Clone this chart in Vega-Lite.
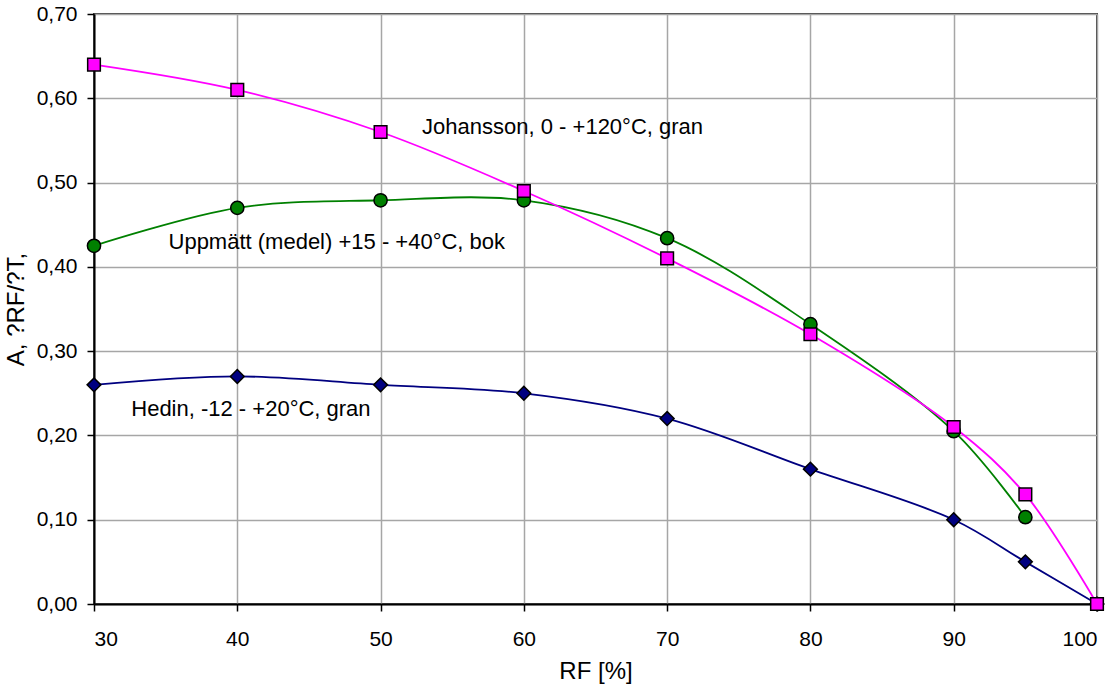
{
  "$schema": "https://vega.github.io/schema/vega-lite/v6.json",
  "width": 1003,
  "height": 590,
  "autosize": {"type": "none"},
  "padding": {"left": 94, "top": 14, "right": 22, "bottom": 82},
  "background": "white",
  "config": {
    "font": "Liberation Sans",
    "view": {"stroke": "#404040", "strokeWidth": 2},
    "axis": {
      "labelFont": "Liberation Sans",
      "titleFont": "Liberation Sans",
      "labelColor": "#000000",
      "titleColor": "#000000",
      "labelFontSize": 21,
      "titleFontSize": 24,
      "titleFontWeight": "normal",
      "domainColor": "#000000",
      "domainWidth": 2,
      "tickColor": "#000000",
      "tickWidth": 1.5,
      "tickSize": 7,
      "gridColor": "#a6a6a6",
      "gridWidth": 1.5,
      "gridOpacity": 1
    }
  },
  "datasets": {
    "series": [
      {"s": "Hedin", "rf": 30, "a": 0.26},
      {"s": "Hedin", "rf": 40, "a": 0.27},
      {"s": "Hedin", "rf": 50, "a": 0.26},
      {"s": "Hedin", "rf": 60, "a": 0.25},
      {"s": "Hedin", "rf": 70, "a": 0.22},
      {"s": "Hedin", "rf": 80, "a": 0.16},
      {"s": "Hedin", "rf": 90, "a": 0.10},
      {"s": "Hedin", "rf": 95, "a": 0.05},
      {"s": "Hedin", "rf": 100, "a": 0.0},
      {"s": "Uppmätt", "rf": 30, "a": 0.425},
      {"s": "Uppmätt", "rf": 40, "a": 0.47},
      {"s": "Uppmätt", "rf": 50, "a": 0.479},
      {"s": "Uppmätt", "rf": 60, "a": 0.479},
      {"s": "Uppmätt", "rf": 70, "a": 0.434},
      {"s": "Uppmätt", "rf": 80, "a": 0.332},
      {"s": "Uppmätt", "rf": 90, "a": 0.205},
      {"s": "Uppmätt", "rf": 95, "a": 0.103},
      {"s": "Johansson", "rf": 30, "a": 0.64},
      {"s": "Johansson", "rf": 40, "a": 0.61},
      {"s": "Johansson", "rf": 50, "a": 0.56},
      {"s": "Johansson", "rf": 60, "a": 0.49},
      {"s": "Johansson", "rf": 70, "a": 0.41},
      {"s": "Johansson", "rf": 80, "a": 0.32},
      {"s": "Johansson", "rf": 90, "a": 0.21},
      {"s": "Johansson", "rf": 95, "a": 0.13},
      {"s": "Johansson", "rf": 100, "a": 0.0}
    ],
    "labels": [
      {"t": "Johansson, 0 - +120°C, gran", "rf": 52.9, "a": 0.566},
      {"t": "Uppmätt (medel) +15 - +40°C, bok", "rf": 35.2, "a": 0.430},
      {"t": "Hedin, -12 - +20°C, gran", "rf": 32.6, "a": 0.231}
    ]
  },
  "layer": [
    {
      "data": {"name": "series"},
      "mark": {"type": "line", "interpolate": "catmull-rom", "strokeWidth": 1.8},
      "encoding": {
        "x": {
          "field": "rf", "type": "quantitative",
          "scale": {"domain": [30, 100], "nice": false, "zero": false},
          "axis": {"values": [30, 40, 50, 60, 70, 80, 90, 100], "title": "RF [%]", "labelPadding": 17, "titlePadding": 10}
        },
        "y": {
          "field": "a", "type": "quantitative",
          "scale": {"domain": [0, 0.7], "nice": false},
          "axis": {"values": [0, 0.1, 0.2, 0.3, 0.4, 0.5, 0.6, 0.7], "labelExpr": "replace(format(datum.value, '.2f'), '.', ',')", "title": "A, ?RF/?T,", "labelPadding": 10, "titlePadding": 8}
        },
        "color": {
          "field": "s", "type": "nominal",
          "scale": {"domain": ["Hedin", "Uppmätt", "Johansson"], "range": ["#000080", "#008000", "#ff00ff"]},
          "legend": null
        },
        "order": {"field": "rf", "type": "quantitative"}
      }
    },
    {
      "data": {"name": "series"},
      "mark": {"type": "point", "filled": true, "stroke": "#000000", "strokeWidth": 1.5, "opacity": 1},
      "encoding": {
        "x": {"field": "rf", "type": "quantitative"},
        "y": {"field": "a", "type": "quantitative"},
        "fill": {
          "field": "s", "type": "nominal",
          "scale": {"domain": ["Hedin", "Uppmätt", "Johansson"], "range": ["#000080", "#008000", "#ff00ff"]},
          "legend": null
        },
        "shape": {
          "field": "s", "type": "nominal",
          "scale": {"domain": ["Hedin", "Uppmätt", "Johansson"], "range": ["diamond", "circle", "square"]},
          "legend": null
        },
        "size": {
          "field": "s", "type": "nominal",
          "scale": {"domain": ["Hedin", "Uppmätt", "Johansson"], "range": [190, 160, 150]},
          "legend": null
        }
      }
    },
    {
      "data": {"name": "labels"},
      "mark": {"type": "text", "align": "left", "baseline": "middle", "fontSize": 22, "font": "Liberation Sans", "color": "#000000"},
      "encoding": {
        "x": {"field": "rf", "type": "quantitative"},
        "y": {"field": "a", "type": "quantitative"},
        "text": {"field": "t"}
      }
    }
  ]
}
